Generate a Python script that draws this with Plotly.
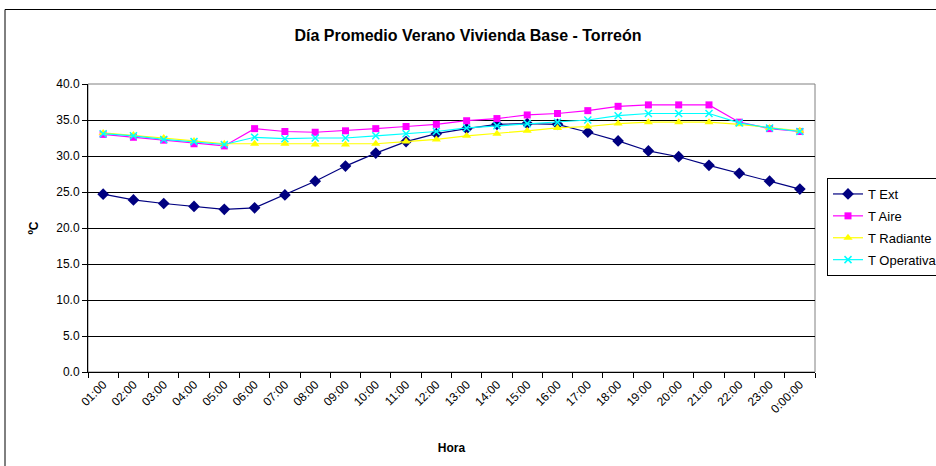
import plotly.graph_objects as go

horas = ["01:00", "02:00", "03:00", "04:00", "05:00", "06:00", "07:00", "08:00",
         "09:00", "10:00", "11:00", "12:00", "13:00", "14:00", "15:00", "16:00",
         "17:00", "18:00", "19:00", "20:00", "21:00", "22:00", "23:00", "0:00:00"]

t_ext = [24.7, 23.9, 23.4, 23.0, 22.6, 22.8, 24.6, 26.5, 28.6, 30.4, 32.0, 33.1,
         33.8, 34.4, 34.5, 34.4, 33.3, 32.1, 30.7, 29.9, 28.7, 27.6, 26.5, 25.4]
t_aire = [33.0, 32.6, 32.2, 31.7, 31.4, 33.8, 33.4, 33.3, 33.5, 33.8, 34.1, 34.4,
          34.9, 35.2, 35.7, 35.9, 36.3, 36.9, 37.1, 37.1, 37.1, 34.7, 33.8, 33.4]
t_radiante = [33.2, 32.9, 32.5, 32.1, 31.7, 31.7, 31.7, 31.6, 31.6, 31.7, 32.0, 32.3,
              32.8, 33.1, 33.5, 33.9, 34.1, 34.5, 34.7, 34.7, 34.7, 34.4, 33.9, 33.5]
t_operativa = [33.1, 32.8, 32.3, 32.0, 31.6, 32.6, 32.4, 32.5, 32.5, 32.8, 33.1, 33.4,
               33.9, 34.2, 34.5, 34.7, 35.0, 35.6, 35.9, 35.9, 35.9, 34.6, 33.9, 33.4]

y_ticks = [0, 5, 10, 15, 20, 25, 30, 35, 40]

FONT = "Liberation Sans, Arial, sans-serif"

series = [
    ("T Ext", t_ext, "#000080", "diamond", 9, 0),
    ("T Aire", t_aire, "#FF00FF", "square", 7, 0),
    ("T Radiante", t_radiante, "#FFFF00", "triangle-up", 8, 0),
    ("T Operativa", t_operativa, "#00FFFF", "x-thin", 7, 1.5),
]

fig = go.Figure()
for name, vals, color, symbol, size, mlw in series:
    marker = dict(symbol=symbol, size=size, color=color)
    if mlw:
        marker["line"] = dict(color=color, width=mlw)
    else:
        marker["line"] = dict(width=0)
    fig.add_trace(go.Scatter(
        x=horas, y=vals, name=name, legendgroup=name, mode="lines+markers",
        line=dict(color=color, width=1.2), marker=marker,
    ))

L, R, T, B = 88, 121, 84, 94
W, H = 936, 466
pw, ph = W - L - R, H - T - B

shapes = [
    # outer chart frame
    dict(type="rect", xref="paper", yref="paper",
         x0=(5 - L) / pw, x1=(940 - L) / pw,
         y0=(ph + T - 470) / ph, y1=(ph + T - 9.5) / ph,
         line=dict(color="#000000", width=1), fillcolor="rgba(0,0,0,0)", layer="below"),
    # plot area border
    dict(type="rect", xref="paper", yref="paper", x0=0, x1=1, y0=0, y1=1,
         line=dict(color="#808080", width=1), fillcolor="rgba(0,0,0,0)", layer="below"),
]

fig.update_layout(
    width=W, height=H,
    margin=dict(l=L, r=R, t=T, b=B, autoexpand=False),
    paper_bgcolor="white", plot_bgcolor="white",
    font=dict(family=FONT, color="#000000", size=11),
    title=dict(text="<b>Día Promedio Verano Vivienda Base - Torreón</b>",
               x=0.5, xref="container", xanchor="center",
               y=1 - 35 / H, yanchor="middle",
               font=dict(size=16, family=FONT)),
    showlegend=True,
    legend=dict(x=(827 - L) / pw, xanchor="left", y=(ph + T - 178) / ph, yanchor="top",
                bordercolor="#000000", borderwidth=1, bgcolor="white",
                font=dict(size=13, family=FONT), tracegroupgap=2,
                itemwidth=30),
    shapes=shapes,
)

fig.update_xaxes(
    type="category", tickangle=-45, tickson="boundaries",
    ticks="outside", ticklen=5, tickcolor="#000000",
    showline=True, linecolor="#000000", linewidth=1,
    showgrid=False, zeroline=False,
    tickfont=dict(size=12, family=FONT),
    title=dict(text="<b>Hora</b>", font=dict(size=12, family=FONT), standoff=28),
    range=[-0.5, len(horas) - 0.5],
)

fig.update_yaxes(
    range=[0, 40], tickvals=y_ticks, tickformat=".1f",
    ticks="outside", ticklen=5, tickcolor="#000000",
    showline=True, linecolor="#000000", linewidth=1,
    showgrid=True, gridcolor="#000000", gridwidth=1,
    zeroline=False,
    tickfont=dict(size=12, family=FONT),
    title=dict(text="<b>ºC</b>", font=dict(size=12, family=FONT), standoff=15),
)

fig.write_html("out.html")
